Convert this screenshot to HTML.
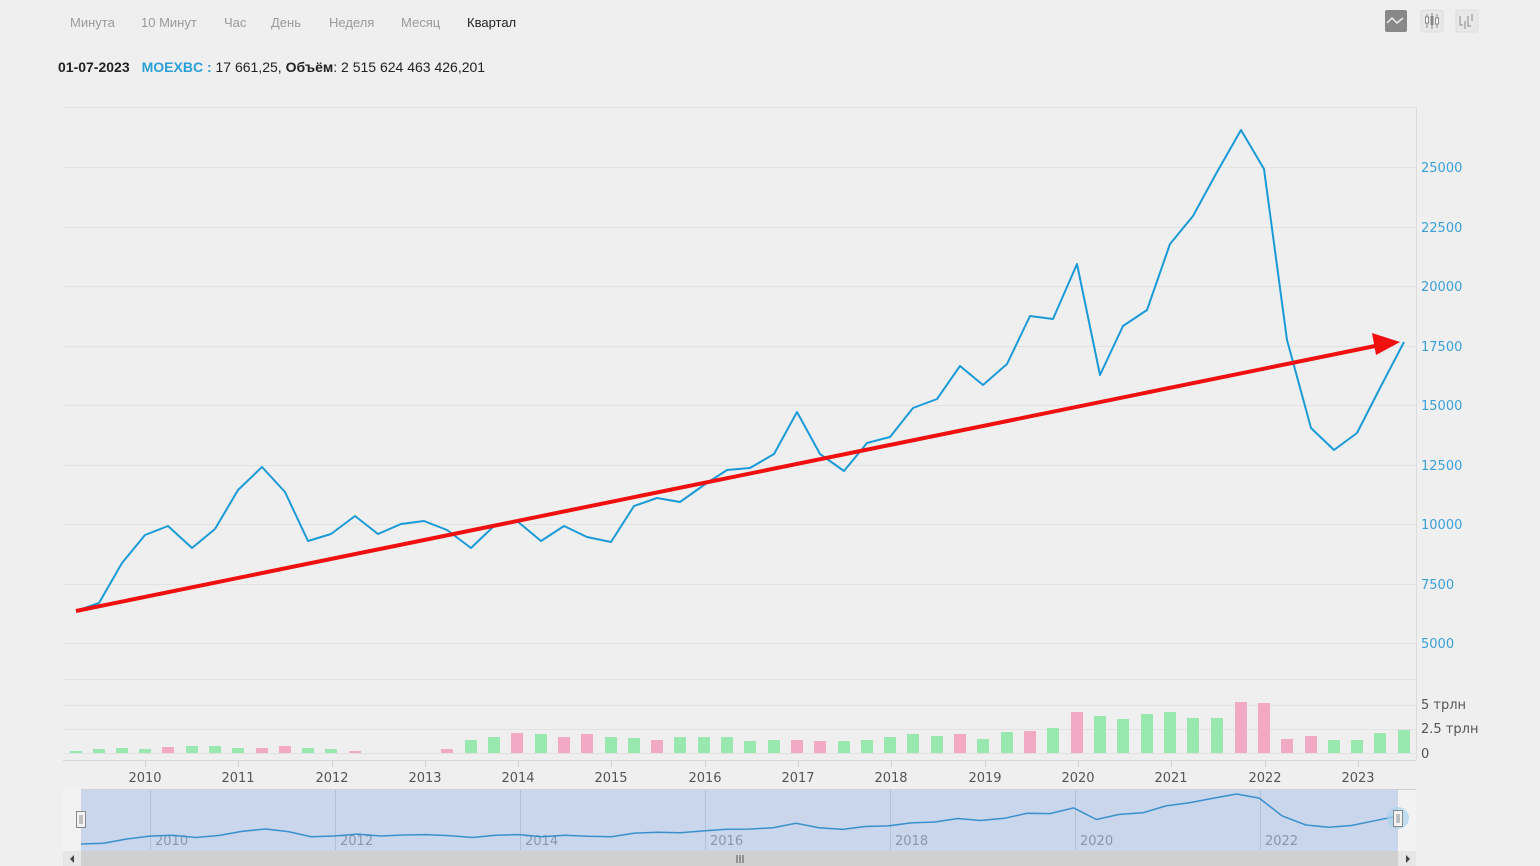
<!DOCTYPE html>
<html><head><meta charset="utf-8"><style>
html,body{margin:0;padding:0;background:#efefef;width:1540px;height:866px;overflow:hidden;font-family:"Liberation Sans","DejaVu Sans",sans-serif}
svg{position:absolute;left:0;top:0}
</style></head><body>
<svg id="s" width="1540" height="866" xmlns="http://www.w3.org/2000/svg">
<rect width="1540" height="866" fill="#efefef"/>
<g font-size="13" fill="#9a9a9a" font-family="Liberation Sans, DejaVu Sans, sans-serif">
<text x="70" y="27">Минута</text><text x="141" y="27">10 Минут</text><text x="224" y="27">Час</text><text x="271" y="27">День</text><text x="329" y="27">Неделя</text><text x="401" y="27">Месяц</text><text x="467" y="27" fill="#222">Квартал</text>
</g>
<rect x="1385" y="10" width="22" height="22" rx="2" fill="#888"/>
<path d="M1387 23 l5 -5 l5 5 l6 -5" stroke="#eee" stroke-width="1.5" fill="none"/>
<rect x="1421" y="10" width="22" height="22" rx="2" fill="#e8e8e8" stroke="#ddd"/>
<path d="M1427 14v14M1432 13v16M1437 14v14" stroke="#888" stroke-width="1"/>
<rect x="1425.5" y="17" width="3" height="6" fill="#fff" stroke="#888"/><rect x="1430.5" y="16" width="3" height="9" fill="#888"/><rect x="1435.5" y="18" width="3" height="6" fill="#fff" stroke="#888"/>
<rect x="1456" y="10" width="22" height="22" rx="2" fill="#e8e8e8" stroke="#ddd"/>
<path d="M1460 16v9h3M1465 21v8M1468 16v10h3M1472 14v7" stroke="#888" stroke-width="1" fill="none"/>
<text x="58" y="72" font-size="14" fill="#222" font-family="Liberation Sans, sans-serif"><tspan font-weight="bold">01-07-2023</tspan><tspan dx="12" fill="#2a9fd6" font-weight="bold">MOEXBC :</tspan><tspan> 17 661,25, </tspan><tspan font-weight="bold">Объём</tspan><tspan>: 2 515 624 463 426,201</tspan></text>
<g id="grid" stroke="#e2e2e2" stroke-width="1"></g>
<line x1="1416.5" y1="107" x2="1416.5" y2="760" stroke="#dcdcdc"/>
<line x1="63" y1="760.5" x2="1416" y2="760.5" stroke="#d8d8d8"/>
<g id="ylab" font-size="13" fill="#3aa0d8" font-family="DejaVu Sans, sans-serif"></g>
<g id="vol"></g>
<g id="xlab" font-size="13" fill="#555" font-family="DejaVu Sans, sans-serif"></g>
<polyline id="price" fill="none" stroke="#1a9bd7" stroke-width="2" stroke-linejoin="round"/>
<line x1="76" y1="611" x2="1380" y2="345" stroke="#f01010" stroke-width="4"/>
<polygon points="1400,342 1372,333 1376,355" fill="#f01010"/>
<rect x="63" y="789" width="1353" height="62" fill="#f2f2f2"/>
<rect x="81" y="789" width="1317" height="62" fill="#c9d6ec"/>
<line x1="81" y1="789.5" x2="1416" y2="789.5" stroke="#d0d0d0"/>
<g id="nav" font-size="13" fill="#8a97aa" font-family="DejaVu Sans, sans-serif"></g>
<path id="navline" fill="none" stroke="#3a90cc" stroke-width="1.5"/>
<rect x="76.5" y="811.5" width="9" height="16" fill="#f4f4f4" stroke="#888"/>
<path d="M80 815v9M82 815v9" stroke="#888"/>
<circle cx="1398" cy="818" r="11" fill="#a8d4ee" opacity="0.7"/>
<rect x="1393.5" y="810.5" width="9" height="16" fill="#f4f4f4" stroke="#888"/>
<path d="M1397 814v9M1399 814v9" stroke="#888"/>
<rect x="63" y="851" width="1353" height="15" fill="#d0d0d0"/>
<rect x="63" y="851" width="18" height="15" fill="#e6e6e6"/><rect x="1398" y="851" width="18" height="15" fill="#e6e6e6"/>
<polygon points="70,859 74,855 74,863" fill="#444"/><polygon points="1410,859 1406,855 1406,863" fill="#444"/>
<path d="M737 855v8M740 855v8M743 855v8" stroke="#555"/>
</svg>
<script>
var ns="http://www.w3.org/2000/svg";
function el(p,t,a,txt){var e=document.createElementNS(ns,t);for(var k in a)e.setAttribute(k,a[k]);if(txt)e.textContent=txt;document.getElementById(p).appendChild(e);return e;}
// grid
var gy=[107,167,227,286,346,405,465,524,584,643,679,705,729,753];
gy.forEach(function(y){el("grid","line",{x1:63,x2:1416,y1:y+.5,y2:y+.5});});
var labs=["25000","22500","20000","17500","15000","12500","10000","7500","5000"];
labs.forEach(function(t,i){el("ylab","text",{x:1421,y:gy[i+1]+5},t);});
[["5 трлн",709],["2.5 трлн",733],["0",758]].forEach(function(a){el("ylab","text",{x:1421,y:a[1],fill:"#555"},a[0]);});
var pts=[[76,611],[99,603],[122,563],[145,535],[168,526],[192,548],[215,529],[238,490],[262,467],[285,492],[308,541],[331,534],[355,516],[378,534],[401,524],[424,521],[447,530],[471,548],[494,526],[517,521],[541,541],[564,526],[587,537],[611,542],[634,506],[657,498],[680,502],[704,485],[727,470],[750,468],[774,454],[797,412],[820,454],[844,471],[867,443],[890,437],[913,408],[937,399],[960,366],[983,385],[1007,364],[1030,316],[1053,319],[1077,264],[1100,375],[1123,326],[1147,310],[1170,244],[1193,216],[1217,172],[1241,130],[1264,169],[1287,340],[1311,428],[1334,450],[1357,433],[1380,388],[1404,342]];
document.getElementById("price").setAttribute("points",pts.map(function(p){return p.join(",")}).join(" "));
var v=[["g",2],["g",4],["g",5],["g",4],["p",6],["g",7],["g",7],["g",5],["p",5],["p",7],["g",5],["g",4],["p",2],["",0],["",0],["",0],["p",4],["g",13],["g",16],["p",20],["g",19],["p",16],["p",19],["g",16],["g",15],["p",13],["g",16],["g",16],["g",16],["g",12],["g",13],["p",13],["p",12],["g",12],["g",13],["g",16],["g",19],["g",17],["p",19],["g",14],["g",21],["p",22],["g",25],["p",41],["g",37],["g",34],["g",39],["g",41],["g",35],["g",35],["p",51],["p",50],["p",14],["p",17],["g",13],["g",13],["g",20],["g",23]];
v.forEach(function(b,i){if(!b[1])return;el("vol","rect",{x:pts[i][0]-6,y:753-b[1],width:12,height:b[1],fill:b[0]=="g"?"#98e8b0":"#f2aac4"});});
var yx=[145,238,332,425,518,611,705,798,891,985,1078,1171,1265,1358];
yx.forEach(function(x,i){el("xlab","text",{x:x,y:782,"text-anchor":"middle"},String(2010+i));el("grid","line",{x1:x+.5,x2:x+.5,y1:760,y2:767,stroke:"#d0d0d0"});});
[150,335,520,705,890,1075,1260].forEach(function(x,i){el("nav","line",{x1:x+.5,x2:x+.5,y1:790,y2:850,stroke:"#b4c2d8"});el("nav","text",{x:x+5,y:845},String(2010+2*i));});
// navigator smooth line
var d="";pts.forEach(function(p,i){var x=81+(p[0]-76)*(1398-81)/(1404-76);var y=844-(611-p[1])*50/481;d+=(i?"L":"M")+x.toFixed(1)+" "+y.toFixed(1);});
document.getElementById("navline").setAttribute("d",d);
</script>
</body></html>
